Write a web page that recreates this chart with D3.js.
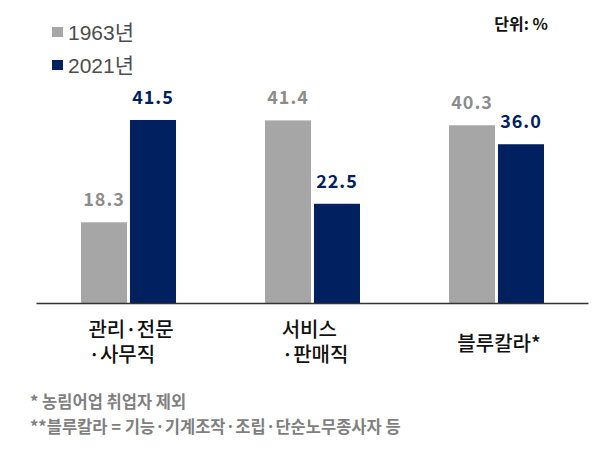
<!DOCTYPE html>
<html>
<head>
<meta charset="utf-8">
<script src="https://cdn.jsdelivr.net/npm/d3@7"></script>
<style>
  body { margin: 0; background: #fff; }
  svg { display: block; }
  text { font-family: "Noto Sans CJK KR", "Noto Sans", sans-serif; }
</style>
</head>
<body>
<div id="chart"></div>
<script>
// Data
var categories = ["관리·전문\n·사무직", "서비스\n·판매직", "블루칼라*"];
var years = ["1963년", "2021년"];
var values1963 = [18.3, 41.4, 40.3];
var values2021 = [41.5, 22.5, 36.0];
var unitLabel = "단위: %";
var footnotes = ["* 농림어업 취업자 제외", "**블루칼라 = 기능·기계조작·조립·단순노무종사자 등"];

var barColors = ["#a6a6a6", "#002060"],
    labelColors = ["#8c8c8c", "#002060"];

var width = 605,
    height = 450,
    baseline = 303;

var svg = d3.select("#chart").append("svg")
    .attr("width", width)
    .attr("height", height);

var x0 = d3.scaleBand()
    .domain(categories)
    .range([36, 588])
    .padding(0);

var x1 = d3.scaleBand()
    .domain(years)
    .range([x0.bandwidth() / 2 - 47, x0.bandwidth() / 2 + 48])
    .paddingInner(0.06);

var y = d3.scaleLinear()
    .domain([0, 45])
    .range([baseline, baseline - 45 * 4.41]);

var rows = categories.map(function(c, i) {
    return { cat: c, vals: [values1963[i], values2021[i]] };
});

// Bars
var group = svg.selectAll("g.group")
    .data(rows)
  .enter().append("g")
    .attr("class", "group")
    .attr("transform", function(d) { return "translate(" + x0(d.cat) + ",0)"; });

group.selectAll("rect")
    .data(function(d) { return d.vals.map(function(v, j) { return { year: years[j], v: v, j: j }; }); })
  .enter().append("rect")
    .attr("x", function(d) { return x1(d.year); })
    .attr("y", function(d) { return y(d.v); })
    .attr("width", x1.bandwidth())
    .attr("height", function(d) { return y(0) - y(d.v); })
    .attr("fill", function(d) { return barColors[d.j]; });

// Value labels
group.selectAll("text.value")
    .data(function(d) { return d.vals.map(function(v, j) { return { year: years[j], v: v, j: j }; }); })
  .enter().append("text")
    .attr("class", "value")
    .attr("x", function(d) { return x1(d.year) + x1.bandwidth() / 2; })
    .attr("y", function(d) { return y(d.v) - 16; })
    .attr("text-anchor", "middle")
    .attr("font-size", "18px")
    .attr("font-weight", "bold")
    .attr("letter-spacing", "1px")
    .attr("fill", function(d) { return labelColors[d.j]; })
    .text(function(d) { return d3.format(".1f")(d.v); });

// Axis (baseline only)
var xAxis = d3.axisBottom(x0)
    .tickSize(0)
    .tickSizeOuter(0)
    .tickFormat("");
svg.append("g")
    .attr("class", "x axis")
    .attr("transform", "translate(0," + baseline + ")")
    .call(xAxis)
    .select(".domain")
    .attr("stroke", "#333")
    .attr("stroke-width", 1.3);

// Category labels, left-aligned block centred under each group
svg.selectAll("text.cat")
    .data(categories)
  .enter().append("text")
    .attr("class", "cat")
    .attr("font-size", "20px")
    .attr("font-weight", 500)
    .attr("fill", "#111")
    .each(function(d) {
        var t = d3.select(this),
            lines = d.split("\n");
        lines.forEach(function(l, k) {
            t.append("tspan").attr("x", 0).attr("y", 0).text(l);
        });
        var w = 0;
        t.selectAll("tspan").each(function() { w = Math.max(w, this.getComputedTextLength()); });
        var left = x0(d) + x0.bandwidth() / 2 - w / 2 + 3,
            y0 = lines.length > 1 ? 337 : 351;
        t.selectAll("tspan")
            .attr("x", left)
            .attr("y", function(_, k) { return y0 + k * 25; });
    });

// Legend
var legend = svg.selectAll("g.legend")
    .data(years)
  .enter().append("g")
    .attr("class", "legend")
    .attr("transform", function(d, i) { return "translate(52," + (27 + i * 33) + ")"; });

legend.append("rect")
    .attr("width", 11)
    .attr("height", 10)
    .attr("fill", function(d, i) { return barColors[i]; });

legend.append("text")
    .attr("x", 16)
    .attr("y", 12.5)
    .attr("font-size", "21px")
    .attr("fill", "#4d4d4d")
    .style("font-family", "'Liberation Sans', Arial, 'Noto Sans CJK KR', sans-serif")
    .text(function(d) { return d; });

// Unit
svg.append("text")
    .attr("x", 548)
    .attr("y", 30)
    .attr("text-anchor", "end")
    .attr("font-size", "16px")
    .attr("font-weight", "bold")
    .attr("fill", "#111")
    .text(unitLabel);

// Footnotes
svg.selectAll("text.note")
    .data(footnotes)
  .enter().append("text")
    .attr("class", "note")
    .attr("x", 30)
    .attr("y", function(d, i) { return 408 + i * 25; })
    .attr("font-size", "16.5px")
    .attr("font-weight", "bold")
    .attr("fill", "#7f7f7f")
    .text(function(d) { return d; });
</script>
</body>
</html>
